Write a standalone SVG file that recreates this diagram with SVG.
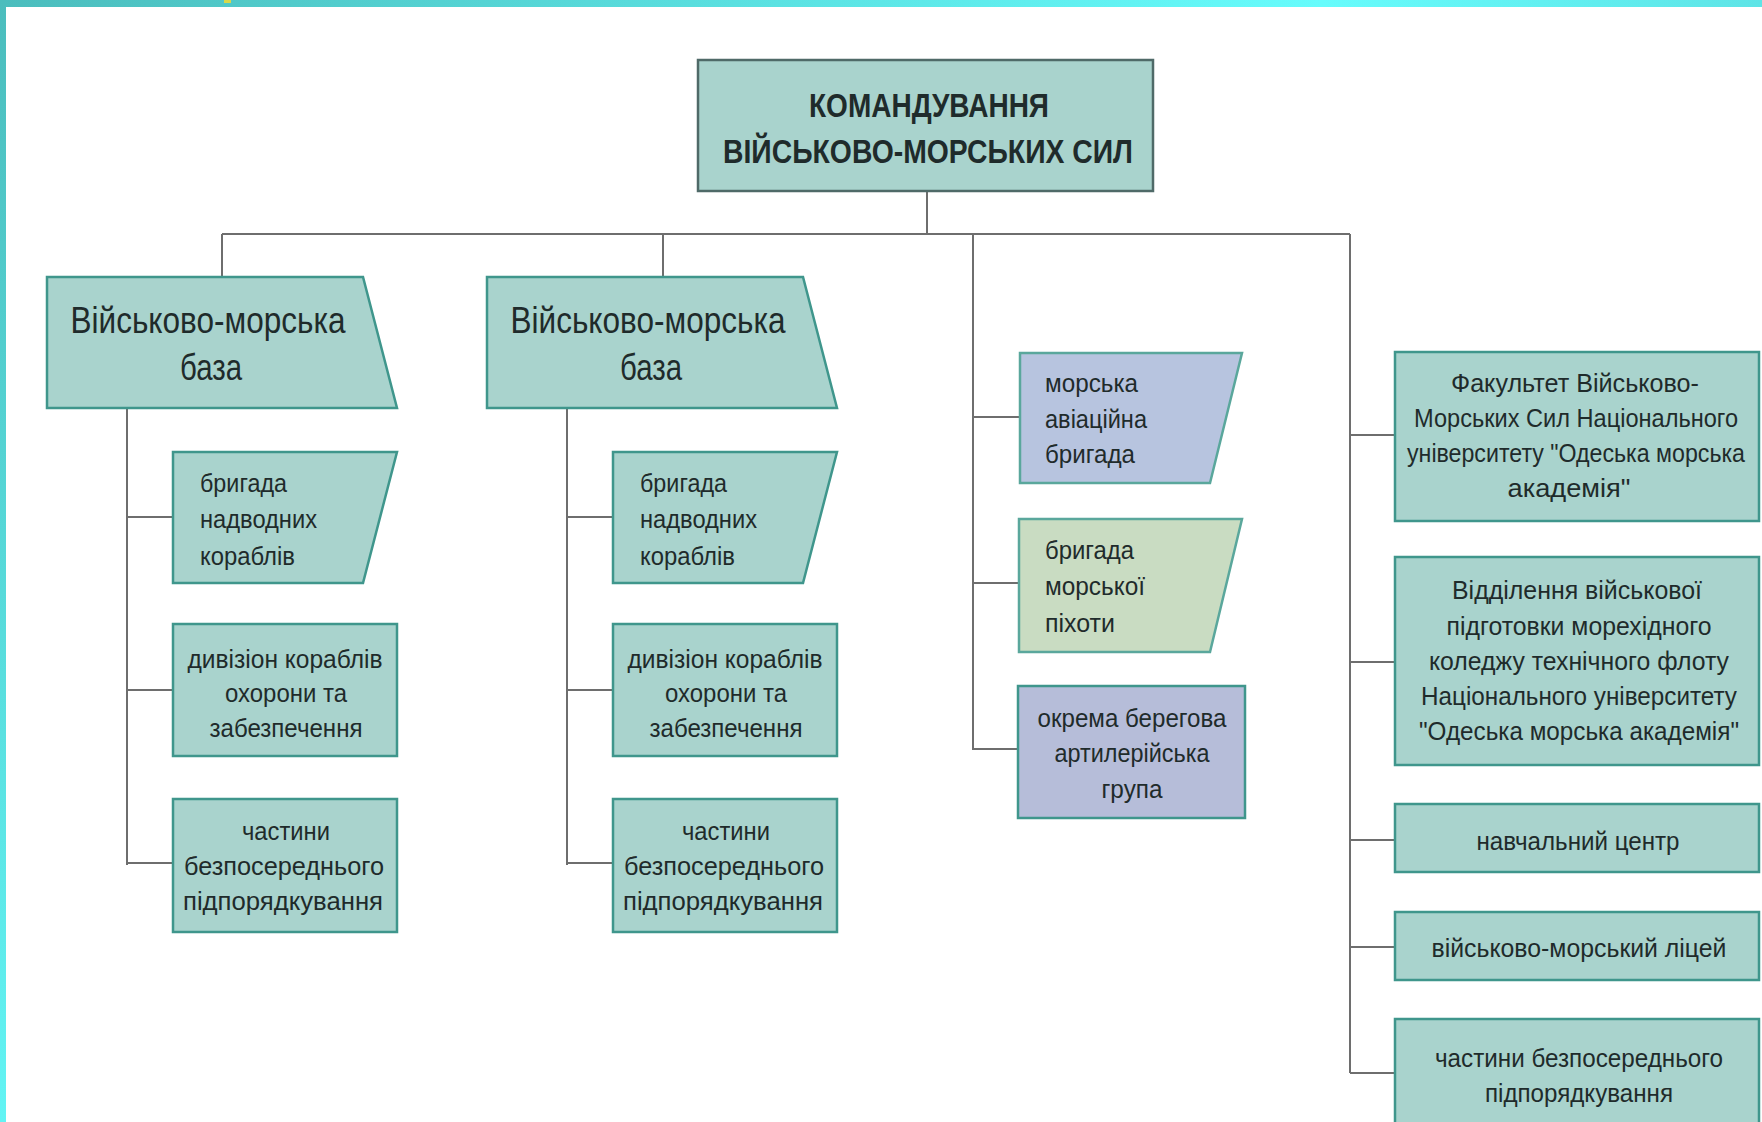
<svg xmlns="http://www.w3.org/2000/svg" width="1762" height="1122" viewBox="0 0 1762 1122">
<defs>
<linearGradient id="gTop" x1="0" y1="0" x2="1" y2="0">
<stop offset="0" stop-color="#4bbdbd"/>
<stop offset="0.75" stop-color="#66fcfc"/>
<stop offset="1" stop-color="#5ee4e6"/>
</linearGradient>
<linearGradient id="gLeft" x1="0" y1="0" x2="0" y2="1">
<stop offset="0" stop-color="#4bbdbd"/>
<stop offset="1" stop-color="#62f4f4"/>
</linearGradient>
<style>
.n{fill:#a9d3cd;stroke:#3f968c;stroke-width:2.5}
.top{fill:#a9d3cd;stroke:#4f6a68;stroke-width:2.5}
.av{fill:#b7c4df;stroke:#5aa79c;stroke-width:2.5}
.inf{fill:#c9dcc2;stroke:#5aa79c;stroke-width:2.5}
.art{fill:#b6bdd9;stroke:#3f968c;stroke-width:2.5}
.c{fill:none;stroke:#6e6e6e;stroke-width:2}
text{font-family:"Liberation Sans",Arial,sans-serif;fill:#1f2b2b}
.t{font-size:33px;font-weight:bold;text-anchor:middle}
.b{font-size:36px;text-anchor:middle}
.s{font-size:26px}
.m{text-anchor:middle}
</style>
</defs>
<rect x="0" y="0" width="1762" height="1122" fill="#ffffff"/>
<rect x="0" y="0" width="1762" height="7" fill="url(#gTop)"/>
<rect x="0" y="0" width="6" height="1122" fill="url(#gLeft)"/>
<rect x="224" y="0" width="7" height="3" fill="#d8d84a"/>

<g id="connectors">
<path class="c" d="M927 192V234M222 234H1350M222 234V277M663 234V277M973 234V750M1350 234V1073"/>
<path class="c" d="M127 408V865M127 517H173M127 690H173M127 863H173"/>
<path class="c" d="M567 408V865M567 517H613M567 690H613M567 863H613"/>
<path class="c" d="M973 417H1020M973 583H1019M973 749H1018"/>
<path class="c" d="M1350 435H1395M1350 662H1395M1350 840H1395M1350 947H1395M1350 1073H1395"/>
</g>

<g id="command">
<rect class="top" x="698" y="60" width="455" height="131"/>
<text class="t" x="929" y="117" textLength="240" lengthAdjust="spacingAndGlyphs">КОМАНДУВАННЯ</text>
<text class="t" x="928" y="163" textLength="410" lengthAdjust="spacingAndGlyphs">ВІЙСЬКОВО-МОРСЬКИХ СИЛ</text>
</g>

<g id="base1">
<polygon class="n" points="47,277 363,277 397,408 47,408"/>
<text class="b" x="208" y="333" textLength="275" lengthAdjust="spacingAndGlyphs">Військово-морська</text>
<text class="b" x="211" y="380" textLength="62" lengthAdjust="spacingAndGlyphs">база</text>
</g>
<g id="brigade1">
<polygon class="n" points="173,452 397,452 363,583 173,583"/>
<text class="s" x="200" y="492" textLength="87" lengthAdjust="spacingAndGlyphs">бригада</text>
<text class="s" x="200" y="528" textLength="117" lengthAdjust="spacingAndGlyphs">надводних</text>
<text class="s" x="200" y="565" textLength="95" lengthAdjust="spacingAndGlyphs">кораблів</text>
</g>
<g id="division1">
<rect class="n" x="173" y="624" width="224" height="132"/>
<text class="s m" x="285" y="668" textLength="195" lengthAdjust="spacingAndGlyphs">дивізіон кораблів</text>
<text class="s m" x="286" y="702" textLength="122" lengthAdjust="spacingAndGlyphs">охорони та</text>
<text class="s m" x="286" y="737" textLength="153" lengthAdjust="spacingAndGlyphs">забезпечення</text>
</g>
<g id="parts1">
<rect class="n" x="173" y="799" width="224" height="133"/>
<text class="s m" x="286" y="840" textLength="88" lengthAdjust="spacingAndGlyphs">частини</text>
<text class="s m" x="284" y="875" textLength="200" lengthAdjust="spacingAndGlyphs">безпосереднього</text>
<text class="s m" x="283" y="910" textLength="200" lengthAdjust="spacingAndGlyphs">підпорядкування</text>
</g>

<g id="base2">
<polygon class="n" points="487,277 803,277 837,408 487,408"/>
<text class="b" x="648" y="333" textLength="275" lengthAdjust="spacingAndGlyphs">Військово-морська</text>
<text class="b" x="651" y="380" textLength="62" lengthAdjust="spacingAndGlyphs">база</text>
</g>
<g id="brigade2">
<polygon class="n" points="613,452 837,452 803,583 613,583"/>
<text class="s" x="640" y="492" textLength="87" lengthAdjust="spacingAndGlyphs">бригада</text>
<text class="s" x="640" y="528" textLength="117" lengthAdjust="spacingAndGlyphs">надводних</text>
<text class="s" x="640" y="565" textLength="95" lengthAdjust="spacingAndGlyphs">кораблів</text>
</g>
<g id="division2">
<rect class="n" x="613" y="624" width="224" height="132"/>
<text class="s m" x="725" y="668" textLength="195" lengthAdjust="spacingAndGlyphs">дивізіон кораблів</text>
<text class="s m" x="726" y="702" textLength="122" lengthAdjust="spacingAndGlyphs">охорони та</text>
<text class="s m" x="726" y="737" textLength="153" lengthAdjust="spacingAndGlyphs">забезпечення</text>
</g>
<g id="parts2">
<rect class="n" x="613" y="799" width="224" height="133"/>
<text class="s m" x="726" y="840" textLength="88" lengthAdjust="spacingAndGlyphs">частини</text>
<text class="s m" x="724" y="875" textLength="200" lengthAdjust="spacingAndGlyphs">безпосереднього</text>
<text class="s m" x="723" y="910" textLength="200" lengthAdjust="spacingAndGlyphs">підпорядкування</text>
</g>

<g id="aviation">
<polygon class="av" points="1020,353 1242,353 1210,483 1020,483"/>
<text class="s" x="1045" y="392" textLength="93" lengthAdjust="spacingAndGlyphs">морська</text>
<text class="s" x="1045" y="428" textLength="102" lengthAdjust="spacingAndGlyphs">авіаційна</text>
<text class="s" x="1045" y="463" textLength="90" lengthAdjust="spacingAndGlyphs">бригада</text>
</g>
<g id="marines">
<polygon class="inf" points="1019,519 1242,519 1210,652 1019,652"/>
<text class="s" x="1045" y="559" textLength="89" lengthAdjust="spacingAndGlyphs">бригада</text>
<text class="s" x="1045" y="595" textLength="100" lengthAdjust="spacingAndGlyphs">морської</text>
<text class="s" x="1045" y="632" textLength="70" lengthAdjust="spacingAndGlyphs">піхоти</text>
</g>
<g id="artillery">
<rect class="art" x="1018" y="686" width="227" height="132"/>
<text class="s m" x="1132" y="727" textLength="189" lengthAdjust="spacingAndGlyphs">окрема берегова</text>
<text class="s m" x="1132" y="762" textLength="155" lengthAdjust="spacingAndGlyphs">артилерійська</text>
<text class="s m" x="1132" y="798" textLength="61" lengthAdjust="spacingAndGlyphs">група</text>
</g>

<g id="faculty">
<rect class="n" x="1395" y="352" width="364" height="169"/>
<text class="s m" x="1575" y="392" textLength="248" lengthAdjust="spacingAndGlyphs">Факультет Військово-</text>
<text class="s m" x="1576" y="427" textLength="324" lengthAdjust="spacingAndGlyphs">Морських Сил Національного</text>
<text class="s m" x="1576" y="462" textLength="338" lengthAdjust="spacingAndGlyphs">університету "Одеська морська</text>
<text class="s m" x="1569" y="497" textLength="123" lengthAdjust="spacingAndGlyphs">академія"</text>
</g>
<g id="college">
<rect class="n" x="1395" y="557" width="364" height="208"/>
<text class="s m" x="1577" y="599" textLength="250" lengthAdjust="spacingAndGlyphs">Відділення військової</text>
<text class="s m" x="1579" y="635" textLength="265" lengthAdjust="spacingAndGlyphs">підготовки морехідного</text>
<text class="s m" x="1579" y="670" textLength="300" lengthAdjust="spacingAndGlyphs">коледжу технічного флоту</text>
<text class="s m" x="1579" y="705" textLength="316" lengthAdjust="spacingAndGlyphs">Національного університету</text>
<text class="s m" x="1579" y="740" textLength="320" lengthAdjust="spacingAndGlyphs">"Одеська морська академія"</text>
</g>
<g id="training">
<rect class="n" x="1395" y="804" width="364" height="68"/>
<text class="s m" x="1578" y="850" textLength="203" lengthAdjust="spacingAndGlyphs">навчальний центр</text>
</g>
<g id="lyceum">
<rect class="n" x="1395" y="912" width="364" height="68"/>
<text class="s m" x="1579" y="957" textLength="295" lengthAdjust="spacingAndGlyphs">військово-морський ліцей</text>
</g>
<g id="parts3">
<rect class="n" x="1395" y="1019" width="364" height="115"/>
<text class="s m" x="1579" y="1067" textLength="288" lengthAdjust="spacingAndGlyphs">частини безпосереднього</text>
<text class="s m" x="1579" y="1102" textLength="188" lengthAdjust="spacingAndGlyphs">підпорядкування</text>
</g>
</svg>
